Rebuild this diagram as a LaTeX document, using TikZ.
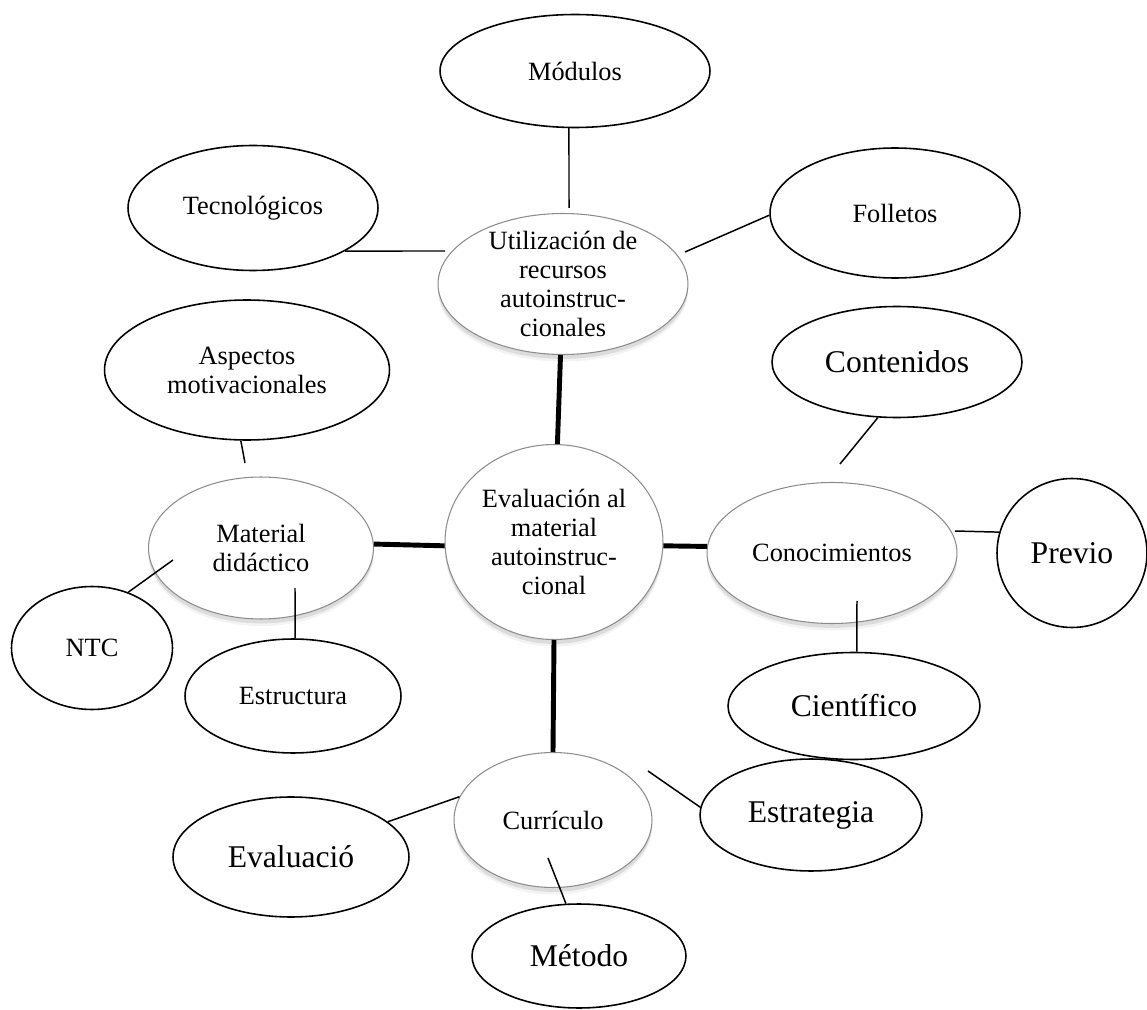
\documentclass[tikz,border=0pt]{standalone}
\usepackage{fontspec}
\setmainfont{Liberation Serif}
\usetikzlibrary{shapes.geometric,shadows}
\tikzset{
    leaf/.style={ellipse,draw,line width=.9pt,fill=white,inner sep=0pt,align=center},
    hub/.style={ellipse,draw=black!45,line width=.6pt,fill=white,inner sep=0pt,align=center,
        drop shadow={shadow xshift=0pt,shadow yshift=-4pt,fill=black!40,opacity=.12},
        drop shadow={shadow xshift=0pt,shadow yshift=-2.5pt,fill=black!50,opacity=.2}},
    small text/.style={font=\fontsize{15}{16.5}\selectfont},
    big text/.style={font=\fontsize{18}{21}\selectfont},
    tie/.style={line width=.85pt},
    spine/.style={line width=2.8pt},
}

\begin{document}
\begin{tikzpicture}[x=.02cm,y=-.02cm]
    \useasboundingbox (0,0) rectangle (1147,1010);
    % hubs
    \node[hub,small text,minimum width=4.36cm,minimum height=3.9cm] (eval) at (554,542) {Evaluación al\\material\\autoinstruc-\\cional};
    \node[hub,small text,minimum width=5cm,minimum height=2.82cm,inner ysep=-8pt] (util) at (563,284) {Utilización de\\recursos\\autoinstruc-\\cionales};
    \node[hub,small text,minimum width=4.5cm,minimum height=2.84cm] (material) at (261,548) {Material\\didáctico};
    \node[hub,small text,minimum width=5cm,minimum height=2.82cm] (conoc) at (832,553) {Conocimientos};
    \node[hub,small text,minimum width=3.96cm,minimum height=2.7cm] (curriculo) at (553,820) {Currículo};
    % leaves
    \node[leaf,small text,minimum width=5.4cm,minimum height=2.26cm] (modulos) at (575,71) {Módulos};
    \node[leaf,small text,minimum width=5cm,minimum height=2.5cm] (tecno) at (253,208) {Tecnológicos};
    \node[leaf,small text,minimum width=5cm,minimum height=2.6cm] (folletos) at (895,213) {Folletos};
    \node[leaf,small text,minimum width=5.7cm,minimum height=2.8cm] (aspectos) at (247,370) {Aspectos\\motivacionales};
    \node[leaf,small text,minimum width=3.22cm,minimum height=2.46cm] (ntc) at (92,648) {NTC};
    \node[leaf,small text,minimum width=4.32cm,minimum height=2.28cm] (estructura) at (293,696) {Estructura};
    \node[leaf,big text,minimum width=5cm,minimum height=2.22cm] (contenidos) at (897,362) {Contenidos};
    \node[leaf,big text,minimum width=3cm,minimum height=2.98cm] (previo) at (1072,553) {Previo};
    \node[leaf,big text,minimum width=5.04cm,minimum height=2.14cm] (cientifico) at (854,706) {Científico};
    \node[leaf,big text,minimum width=4.72cm,minimum height=2.4cm] (evaluacio) at (291,857) {Evaluació};
    \node[leaf,big text,minimum width=4.44cm,minimum height=2.24cm] (estrategia) at (811,815) {Estrategia};
    \node[leaf,big text,minimum width=4.28cm,minimum height=2.08cm] (metodo) at (579,956) {Método};
    % thick links from the centre
    \draw[spine] (util.-92) -- (eval.88);
    \draw[spine] (material.2) -- (eval.182);
    \draw[spine] (eval.-2) -- (conoc.177);
    \draw[spine] (eval.-90) -- (curriculo.90);
    % thin links
    \draw[tie] (modulos.-96) -- ([shift={(6,-76)}]util.center);
    \draw[tie] (tecno.-25) -- ([shift={(-118,-33)}]util.center);
    \draw[tie] ([shift={(122,-32)}]util.center) -- (folletos.181);
    \draw[tie] (aspectos.-95) -- ([shift={(-16,-85)}]material.center);
    \draw[tie] (ntc.57) -- ([shift={(-88,12)}]material.center);
    \draw[tie] (estructura.88) -- ([shift={(34,40)}]material.center);
    \draw[tie] (contenidos.-109) -- ([shift={(8,-89)}]conoc.center);
    \draw[tie] ([shift={(123,-22)}]conoc.center) -- (previo.164);
    \draw[tie] (cientifico.87) -- ([shift={(25,48)}]conoc.center);
    \draw[tie] (evaluacio.20) -- (curriculo.166);
    \draw[tie] ([shift={(95,-49)}]curriculo.center) -- (estrategia.176);
    \draw[tie] ([shift={(-5,38)}]curriculo.center) -- (metodo.104);
\end{tikzpicture}
\end{document}
